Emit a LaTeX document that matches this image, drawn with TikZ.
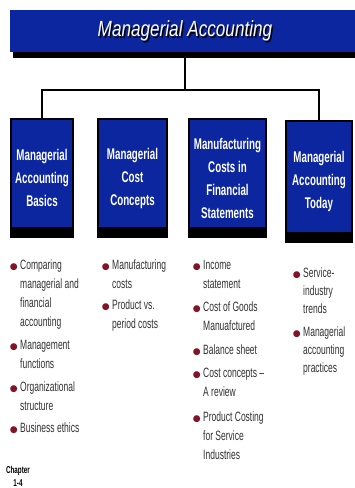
\documentclass[tikz,border=0pt]{standalone}
\usepackage{fontspec}
\setmainfont{Liberation Sans}
\newfontfamily\narrowfont[FakeStretch=0.63, Ligatures=TeX]{Liberation Sans}
\newfontfamily\titlefont[FakeStretch=0.78]{Liberation Sans}
\newfontfamily\dotfont{DejaVu Sans}
\usetikzlibrary{positioning, shadows}

\definecolor{slideblue}{RGB}{12,38,160}
\definecolor{bulletred}{RGB}{130,20,40}
\definecolor{itemgray}{RGB}{50,50,50}

% red dot in front of each list entry
\newcommand{\bul}{\llap{{\dotfont\fontsize{9}{9}\selectfont\textcolor{bulletred}{●}}\hspace{2.5pt}}}

\begin{document}
\begin{tikzpicture}[x=1pt, y=-1pt,
    link/.style={draw=black, line width=2pt},
    titlebar/.style={fill=slideblue, minimum width=350pt, minimum height=42pt, inner sep=0pt,
        drop shadow={shadow xshift=3pt, shadow yshift=-6pt, fill=black, opacity=1}},
    titletext/.style={text=white, inner sep=0pt, font=\titlefont\itshape\fontsize{22}{26}\selectfont},
    topic/.style={fill=slideblue, draw=black, line width=2pt, text=white, align=center, inner sep=0pt,
        font=\narrowfont\bfseries\fontsize{15.5}{23}\selectfont,
        path picture={\fill[black] (path picture bounding box.south west) rectangle ([yshift=10pt]path picture bounding box.south east);}},
    item/.style={anchor=north west, inner sep=0pt, align=left, text=itemgray,
        font=\narrowfont\fontsize{13.5}{19}\selectfont}]
    \useasboundingbox[fill=white] (0,0) rectangle (355,488);

    % title bar
    \node[titlebar] (title) at (185,31) {};
    \node[titletext, text=black] (titleshade) at ([shift={(1.5pt,-1.5pt)}]title.center) {Managerial Accounting};
    \node[titletext] (titlelabel) at (title.center) {Managerial Accounting};

    % the four topics
    \node[topic, minimum width=62pt, minimum height=118pt] (basics) at (42,178) {Managerial\\Accounting\\Basics};
    \node[topic, minimum width=69pt, minimum height=118pt] (costcon) at (132.5,178) {Managerial\\Cost\\Concepts};
    \node[topic, minimum width=77pt, minimum height=118pt] (mfgcost) at (227.5,178) {Manufacturing\\Costs in\\Financial\\Statements};
    \node[topic, minimum width=66pt, minimum height=121pt] (today) at (319,181.5) {Managerial\\Accounting\\Today};

    \coordinate (hub) at (title.south |- 0,90);
    \draw[link] (title.south) -- (hub);
    \draw[link] (basics.north) |- (hub) -| (today.north);

    % lists under the topics
    \node[item] (basics1) at (20,260) {\bul Comparing\\managerial and\\financial\\accounting};
    \node[item] (basics2) at (20,340) {\bul Management\\functions};
    \node[item] (basics3) at (20,382) {\bul Organizational\\structure};
    \node[item] (basics4) at (20,423) {\bul Business ethics};

    \node[item] (costcon1) at (112,260) {\bul Manufacturing\\costs};
    \node[item] (costcon2) at (112,300) {\bul Product vs.\\period costs};

    \node[item] (mfgcost1) at (203,260) {\bul Income\\statement};
    \node[item] (mfgcost2) at (203,302) {\bul Cost of Goods\\Manuafctured};
    \node[item] (mfgcost3) at (203,345) {\bul Balance sheet};
    \node[item] (mfgcost4) at (203,368) {\bul Cost concepts --\\A review};
    \node[item] (mfgcost5) at (203,412) {\bul Product Costing\\for Service\\Industries};

    \node[item, font=\narrowfont\fontsize{13.5}{18}\selectfont] (today1) at (303,268) {\bul Service-\\industry\\trends};
    \node[item, font=\narrowfont\fontsize{13.5}{18}\selectfont] (today2) at (303,327) {\bul Managerial\\accounting\\practices};

    \node[align=center, inner sep=0pt, font=\narrowfont\bfseries\fontsize{10}{13}\selectfont] (chapter) at (18,476) {Chapter\\1-4};
\end{tikzpicture}
\end{document}
